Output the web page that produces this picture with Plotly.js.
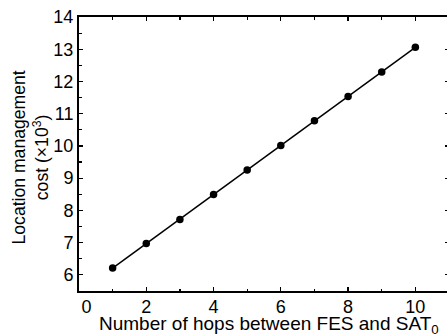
<!DOCTYPE html>
<html>
<head>
<meta charset="utf-8">
<script src="https://cdn.plot.ly/plotly-3.0.1.min.js"></script>
<style>
html, body { margin: 0; padding: 0; overflow: hidden; background: #fff; }
#chart { width: 452px; height: 336px; }
</style>
</head>
<body>
<div id="chart"></div>
<script>
var hops = [1, 2, 3, 4, 5, 6, 7, 8, 9, 10];
var cost = [6.21, 6.97, 7.72, 8.49, 9.25, 10.01, 10.78, 11.53, 12.29, 13.06];
var xTickVals = [0, 2, 4, 6, 8, 10];
var xTickText = ["\u00a0\u00a0\u00a00", "2", "4", "6", "8", "10"];
var yTickVals = [6, 7, 8, 9, 10, 11, 12, 13, 14];
var xTitle = 'Number of hops between FES and SAT<sub>0</sub>';
var yTitle = 'Location management<br>cost (×10<sup>3</sup>)';

var trace = {
  x: hops,
  y: cost,
  type: 'scatter',
  mode: 'lines+markers',
  line: { color: '#000', width: 1.5 },
  marker: { color: '#000', size: 7.5 },
  showlegend: false,
  hoverinfo: 'skip'
};

var fam = '"Liberation Sans", Arial, sans-serif';

var layout = {
  width: 452,
  height: 336,
  margin: { l: 79, r: 3, t: 17, b: 45, pad: 0 },
  paper_bgcolor: '#fff',
  plot_bgcolor: '#fff',
  font: { family: fam, color: '#000' },
  xaxis: {
    range: [0, 11],
    tickmode: 'array',
    tickvals: xTickVals,
    ticktext: xTickText,
    ticks: 'inside',
    ticklen: 4,
    tickwidth: 1.2,
    tickcolor: '#000',
    showline: true,
    linewidth: 2,
    linecolor: '#000',
    mirror: 'ticks',
    showgrid: false,
    zeroline: false,
    ticklabelstandoff: -2,
    tickfont: { family: fam, size: 18, color: '#000' },
    minor: { dtick: 1, tick0: 0, ticks: 'inside', ticklen: 2.5, tickwidth: 1.2, tickcolor: '#000', showgrid: false }
  },
  yaxis: {
    range: [5.5, 14],
    tickmode: 'array',
    tickvals: yTickVals,
    ticks: 'inside',
    ticklen: 4,
    tickwidth: 1.2,
    tickcolor: '#000',
    showline: true,
    linewidth: 2,
    linecolor: '#000',
    mirror: 'ticks',
    showgrid: false,
    zeroline: false,
    tickfont: { family: fam, size: 18, color: '#000' },
    minor: { dtick: 0.5, tick0: 0, ticks: 'inside', ticklen: 2.5, tickwidth: 1.2, tickcolor: '#000', showgrid: false }
  },
  annotations: [
    {
      text: xTitle, xref: 'paper', yref: 'paper',
      x: 0.513, y: -0.124, xanchor: 'center', yanchor: 'middle',
      showarrow: false, font: { family: fam, size: 19, color: '#000' }
    },
    {
      text: yTitle, xref: 'paper', yref: 'paper',
      x: -0.13, y: 0.487, xanchor: 'center', yanchor: 'middle',
      textangle: -90, showarrow: false, align: 'center',
      font: { family: fam, size: 17.6, color: '#000' }
    }
  ]
};

Plotly.newPlot('chart', [trace], layout, { staticPlot: true, displayModeBar: false });
</script>
</body>
</html>
